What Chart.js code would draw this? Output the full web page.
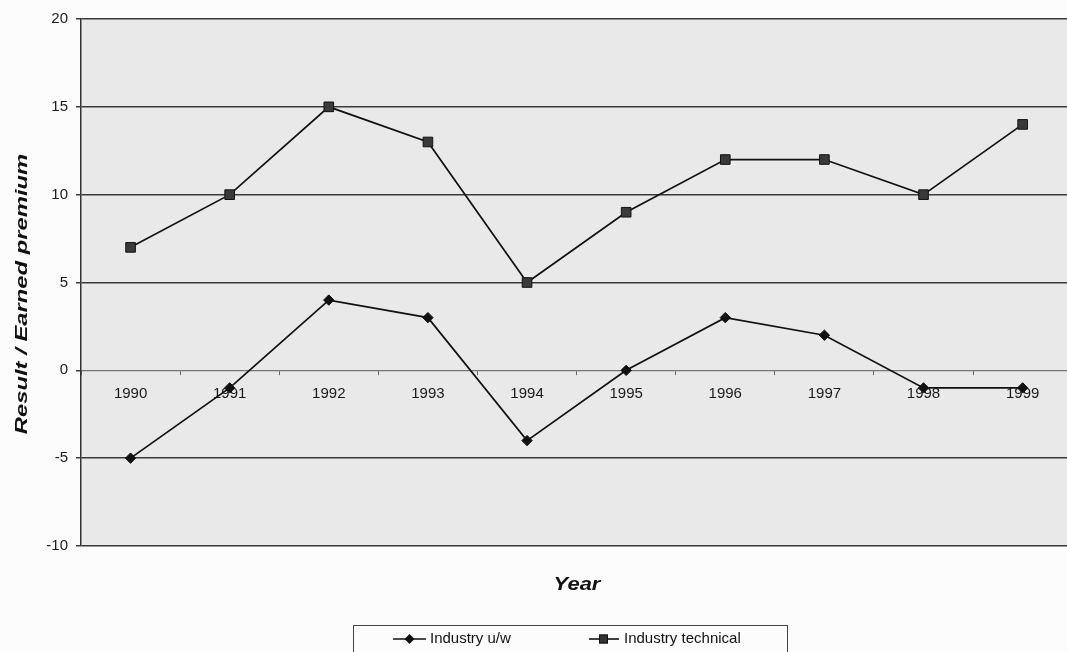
<!DOCTYPE html>
<html>
<head>
<meta charset="utf-8">
<title>Result / Earned premium</title>
<script src="https://cdn.jsdelivr.net/npm/chart.js@4.4.1/dist/chart.umd.min.js"></script>
<style>
  html, body { margin: 0; padding: 0; background: #fcfcfc; overflow: hidden; }
  #wrap { position: absolute; left: 0; top: 0; width: 1080px; height: 670px; }
</style>
</head>
<body>
<div id="wrap"><canvas id="chart" width="1080" height="670"></canvas></div>
<script>
// Years on the category axis
const years = ['1990', '1991', '1992', '1993', '1994', '1995', '1996', '1997', '1998', '1999'];
// Underwriting result as % of earned premium
const industryUW = [-5, -1, 4, 3, -4, 0, 3, 2, -1, -1];
// Technical result as % of earned premium
const industryTechnical = [7, 10, 15, 13, 5, 9, 12, 12, 10, 14];
// Value axis range and step
const yMin = -10;
const yMax = 20;
const yStep = 5;

const seriesNames = ['Industry u/w', 'Industry technical'];
const FONT = '"Liberation Sans", Arial, sans-serif';

// Grey fill behind the plotting area
const plotBackground = {
  id: 'plotBackground',
  beforeDraw(chart) {
    const { ctx, chartArea: a } = chart;
    ctx.save();
    ctx.fillStyle = '#e9e9e9';
    ctx.fillRect(a.left, a.top, a.right - a.left, a.bottom - a.top);
    ctx.restore();
  }
};

// Axis titles and the boxed legend below the chart
const titlesAndLegend = {
  id: 'titlesAndLegend',
  afterDraw(chart) {
    const ctx = chart.ctx;
    ctx.save();
    ctx.fillStyle = '#111';
    ctx.textAlign = 'center';
    ctx.textBaseline = 'middle';

    // Y title
    ctx.save();
    ctx.translate(22, 294);
    ctx.rotate(-Math.PI / 2);
    ctx.scale(1.4, 1);
    ctx.font = 'italic bold 17px ' + FONT;
    ctx.fillText('Result / Earned premium', 0, 0);
    ctx.restore();

    // X title
    ctx.save();
    ctx.translate(577, 585);
    ctx.scale(1.22, 1);
    ctx.font = 'italic bold 18px ' + FONT;
    ctx.fillText('Year', 0, 0);
    ctx.restore();

    // Legend frame
    ctx.strokeStyle = '#444';
    ctx.lineWidth = 1;
    ctx.strokeRect(353.5, 625.5, 434, 60);

    const ly = 639;
    ctx.font = '15px ' + FONT;
    ctx.textAlign = 'left';
    ctx.fillStyle = '#111';
    ctx.strokeStyle = '#111';
    ctx.lineWidth = 1.6;

    // u/w sample: line with diamond
    ctx.beginPath();
    ctx.moveTo(393, ly); ctx.lineTo(426, ly); ctx.stroke();
    ctx.beginPath();
    ctx.moveTo(409.5, ly - 5); ctx.lineTo(414.5, ly); ctx.lineTo(409.5, ly + 5); ctx.lineTo(404.5, ly);
    ctx.closePath(); ctx.fill();
    ctx.fillText(seriesNames[0], 430, ly);

    // technical sample: line with square
    ctx.beginPath();
    ctx.moveTo(589, ly); ctx.lineTo(619, ly); ctx.stroke();
    ctx.fillStyle = '#333';
    ctx.fillRect(599, ly - 4.5, 9, 9);
    ctx.strokeStyle = '#111';
    ctx.lineWidth = 1;
    ctx.strokeRect(599.5, ly - 4, 8, 8);
    ctx.fillStyle = '#111';
    ctx.fillText(seriesNames[1], 624, ly);

    ctx.restore();
  }
};

new Chart(document.getElementById('chart'), {
  type: 'line',
  data: {
    labels: years,
    datasets: [
      {
        label: seriesNames[0],
        data: industryUW,
        borderColor: '#111',
        borderWidth: 1.7,
        backgroundColor: '#111',
        pointStyle: 'rectRot',
        pointRadius: 5.2,
        pointBorderWidth: 1,
        pointBorderColor: '#111',
        pointBackgroundColor: '#111',
        tension: 0,
        fill: false
      },
      {
        label: seriesNames[1],
        data: industryTechnical,
        borderColor: '#111',
        borderWidth: 1.7,
        backgroundColor: '#333',
        pointStyle: 'rect',
        pointRadius: 6.8,
        pointBorderWidth: 1,
        pointBorderColor: '#111',
        pointBackgroundColor: '#3a3a3a',
        tension: 0,
        fill: false
      }
    ]
  },
  options: {
    responsive: false,
    animation: false,
    layout: { padding: { left: 0, top: 19, right: 3, bottom: 124 } },
    plugins: {
      legend: { display: false },
      tooltip: { enabled: false },
      title: { display: false }
    },
    scales: {
      x: {
        type: 'category',
        position: { y: 0 },
        offset: true,
        afterFit(scale) { scale.height = 0; },
        grid: {
          offset: true,
          drawOnChartArea: false,
          drawTicks: true,
          tickLength: 4,
          color: '#666',
          lineWidth: 1
        },
        border: { display: true, color: '#777', width: 1.2 },
        ticks: {
          padding: 11,
          color: '#1a1a1a',
          font: { family: FONT, size: 15 },
          maxRotation: 0,
          autoSkip: false
        }
      },
      y: {
        min: yMin,
        max: yMax,
        afterFit(scale) { scale.width = 81; },
        ticks: {
          stepSize: yStep,
          padding: 8,
          color: '#1a1a1a',
          font: { family: FONT, size: 15 }
        },
        grid: {
          color: ctx => (ctx.tick && ctx.tick.value === 0) ? 'rgba(0,0,0,0)' : '#3a3a3a',
          lineWidth: 1.5,
          tickLength: 5,
          tickColor: '#3a3a3a'
        },
        border: { display: true, color: '#333', width: 1.5 }
      }
    }
  },
  plugins: [plotBackground, titlesAndLegend]
});
</script>
</body>
</html>
